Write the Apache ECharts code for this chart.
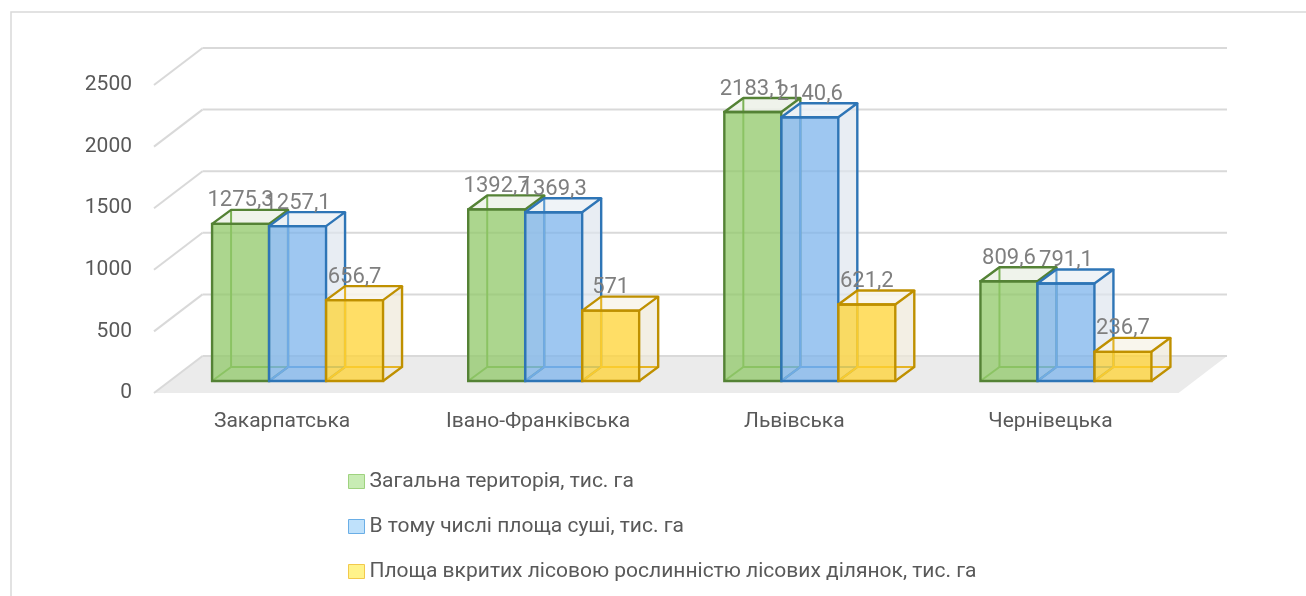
<!DOCTYPE html>
<html>
<head>
<meta charset="utf-8">
<script src="https://cdn.jsdelivr.net/npm/echarts@6/dist/echarts.min.js"></script>
<style>
  html, body { margin: 0; padding: 0; background: #fff; }
  #chart { width: 1306px; height: 596px; }
</style>
</head>
<body>
<div id="chart"></div>
<script>
// data
var categories = ['Закарпатська', 'Івано-Франківська', 'Львівська', 'Чернівецька'];
var totalArea = [1275.3, 1392.7, 2183.1, 809.6];
var landArea = [1257.1, 1369.3, 2140.6, 791.1];
var forestArea = [656.7, 571, 621.2, 236.7];
var yTicks = [0, 500, 1000, 1500, 2000, 2500];
var seriesNames = [
  'Загальна територія, тис. га',
  'В тому числі площа суші, тис. га',
  'Площа вкритих лісовою рослинністю лісових ділянок, тис. га'
];

var FONT = 'Roboto';
var TXT = '#595959';

// offsets from the bar plane to the front and back of the floor
var FR = [-15.5, 12];
var BK = [33, -25];
var BD = [19, -14]; // bar depth

var palettes = [
  { front: 'rgba(144,200,104,0.75)', top: 'rgba(236,241,232,0.85)', side: 'rgba(226,233,220,0.7)', edge: '#548235', hidden: '#7cb356', lg: '#c8ecb4', lgb: '#9fd27f' },
  { front: 'rgba(120,178,235,0.72)', top: 'rgba(236,241,246,0.85)', side: 'rgba(222,230,238,0.7)', edge: '#2e75b6', hidden: '#5b9bd5', lg: '#bfe1fb', lgb: '#6aaee6' },
  { front: 'rgba(255,211,51,0.75)', top: 'rgba(248,244,234,0.85)', side: 'rgba(238,232,216,0.7)', edge: '#bf9000', hidden: '#e6b422', lg: '#fff38a', lgb: '#f2c94c' }
];

function fmt(v) { return String(v).replace('.', ','); }

function floorItem(params, api) {
  var cs = params.coordSys;
  var L = cs.x, R = cs.x + cs.width;
  var y = api.coord([0, api.value(1)])[1];
  var kids = [];
  if (params.dataIndex === 0) {
    kids.push({
      type: 'polygon',
      shape: { points: [[L + FR[0], y + FR[1]], [R + FR[0], y + FR[1]], [R + BK[0], y + BK[1]], [L + BK[0], y + BK[1]]] },
      style: { fill: '#ebebeb' }
    });
  }
  kids.push({
    type: 'line',
    shape: { x1: L + FR[0], y1: y + FR[1], x2: L + BK[0], y2: y + BK[1] },
    style: { stroke: '#d9d9d9', lineWidth: 2 }
  });
  kids.push({
    type: 'line',
    shape: { x1: L + BK[0], y1: y + BK[1], x2: R + BK[0], y2: y + BK[1] },
    style: { stroke: '#d9d9d9', lineWidth: 2 }
  });
  return { type: 'group', children: kids };
}

function barItem(k) {
  var p = palettes[k];
  return function (params, api) {
    var ci = api.value(0), v = api.value(1);
    var base = api.coord([ci, 0]);
    var topP = api.coord([ci, v]);
    var cw = api.size([1, 0])[0];
    var w = cw * 0.2225;
    var x0 = base[0] + (k - 1.5) * w, x1 = x0 + w;
    var yb = base[1], yt = topP[1];
    var dx = BD[0], dy = BD[1];
    return {
      type: 'group',
      children: [
        { type: 'polygon', shape: { points: [[x1, yb], [x1 + dx, yb + dy], [x1 + dx, yt + dy], [x1, yt]] }, style: { fill: p.side } },
        { type: 'polygon', shape: { points: [[x0, yt], [x1, yt], [x1 + dx, yt + dy], [x0 + dx, yt + dy]] }, style: { fill: p.top } },
        { type: 'polyline', shape: { points: [[x0 + dx, yt + dy], [x0 + dx, yb + dy], [x1 + dx, yb + dy]] }, style: { stroke: p.hidden, lineWidth: 2, fill: null } },
        { type: 'line', shape: { x1: x0, y1: yb, x2: x0 + dx, y2: yb + dy }, style: { stroke: p.hidden, lineWidth: 2 } },
        { type: 'rect', shape: { x: x0, y: yt, width: w, height: yb - yt }, style: { fill: p.front, stroke: p.edge, lineWidth: 2.4 } },
        { type: 'polygon', shape: { points: [[x0, yt], [x1, yt], [x1 + dx, yt + dy], [x0 + dx, yt + dy]] }, style: { fill: null, stroke: p.edge, lineWidth: 2.4, lineJoin: 'round' } },
        { type: 'polyline', shape: { points: [[x1, yb], [x1 + dx, yb + dy], [x1 + dx, yt + dy]] }, style: { fill: null, stroke: p.edge, lineWidth: 2.4 } },
        { type: 'text', x: x0 + w / 2, y: yt - 12, style: { text: fmt(v), fill: '#7f7f7f', font: '22px ' + FONT, align: 'center', verticalAlign: 'bottom' } }
      ]
    };
  };
}

var seriesData = [totalArea, landArea, forestArea];

var series = [{
  type: 'custom',
  xAxisIndex: 0,
  yAxisIndex: 0,
  z: 1,
  silent: true,
  data: yTicks.map(function (t) { return [0, t]; }),
  encode: { x: 0, y: 1 },
  renderItem: floorItem
}];
seriesData.forEach(function (arr, k) {
  series.push({
    type: 'custom',
    name: seriesNames[k],
    xAxisIndex: 0,
    yAxisIndex: 0,
    z: 2 + k,
    data: arr.map(function (v, i) { return [i, v]; }),
    encode: { x: 0, y: 1 },
    renderItem: barItem(k)
  });
});

var chart = echarts.init(document.getElementById('chart'));
chart.setOption({
  animation: false,
  backgroundColor: '#ffffff',
  graphic: [{
    type: 'rect',
    shape: { x: 11, y: 12, width: 1400, height: 700 },
    style: { fill: null, stroke: '#d9d9d9', lineWidth: 1.5 },
    z: 0
  }],
  grid: [
    { left: 169.5, right: 112, top: 73, bottom: 215, outerBoundsMode: 'none' },
    { left: 154, right: 127.5, top: 85, bottom: 203, outerBoundsMode: 'none' }
  ],
  xAxis: [
    { type: 'category', gridIndex: 0, data: categories, show: false },
    {
      type: 'category', gridIndex: 1, data: categories,
      axisLine: { show: false }, axisTick: { show: false },
      axisLabel: { margin: 18, color: TXT, fontFamily: FONT, fontSize: 21 }
    }
  ],
  yAxis: [
    { type: 'value', gridIndex: 0, min: 0, max: 2500, interval: 500, show: false },
    {
      type: 'value', gridIndex: 1, min: 0, max: 2500, interval: 500,
      axisLine: { show: false }, axisTick: { show: false }, splitLine: { show: false },
      axisLabel: { margin: 22, color: TXT, fontFamily: FONT, fontSize: 21, formatter: function (v) { return String(v); } }
    }
  ],
  legend: {
    orient: 'vertical',
    left: 348,
    top: 471,
    padding: 0,
    itemWidth: 16,
    itemHeight: 14,
    itemGap: 24,
    textStyle: { color: TXT, fontFamily: FONT, fontSize: 21, lineHeight: 21 },
    data: seriesNames.map(function (n, k) {
      return { name: n, icon: 'rect', itemStyle: { color: palettes[k].lg, borderColor: palettes[k].lgb, borderWidth: 1 } };
    })
  },
  series: series
});
</script>
</body>
</html>
